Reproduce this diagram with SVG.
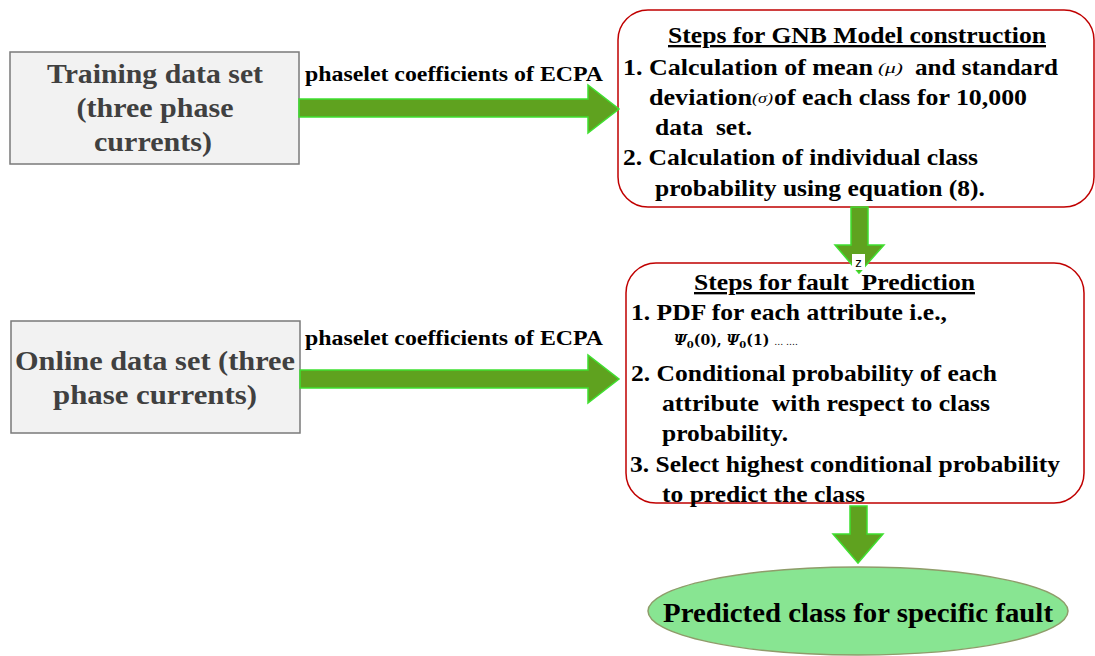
<svg xmlns="http://www.w3.org/2000/svg" width="1095" height="656" viewBox="0 0 1095 656">
<style>
text{font-family:"Liberation Serif","Times New Roman",Tinos,"DejaVu Serif",serif;font-weight:bold;white-space:pre}
.box{fill:#f2f2f2;stroke:#7a7a7a;stroke-width:1.5}
.rbox{fill:#ffffff;stroke:#c00000;stroke-width:1.5}
.big{font-size:27px;fill:#404040;text-anchor:middle}
.lbl{font-size:20px;fill:#000}
.t{font-size:23.5px;fill:#000}
.s{font-size:14px;font-style:italic;font-weight:normal;fill:#000}
.arr{fill:#5fa21f;stroke:#3fe030;stroke-width:1.5}
.z{font-family:"Liberation Sans",Arial,sans-serif;font-weight:normal;font-size:13px;fill:#000;text-anchor:middle}
</style>
<g id="training">
<rect class="box" x="10" y="52" width="289" height="112"/>
<text class="big" x="155" y="83" textLength="216" lengthAdjust="spacingAndGlyphs">Training data set</text>
<text class="big" x="155" y="117" textLength="157" lengthAdjust="spacingAndGlyphs">(three phase</text>
<text class="big" x="153" y="151" textLength="118" lengthAdjust="spacingAndGlyphs">currents)</text>
</g>
<g id="online">
<rect class="box" x="11" y="321" width="289" height="112"/>
<text class="big" x="155" y="370" textLength="280" lengthAdjust="spacingAndGlyphs">Online data set (three</text>
<text class="big" x="155" y="404" textLength="204" lengthAdjust="spacingAndGlyphs">phase currents)</text>
</g>
<g id="gnb">
<rect class="rbox" x="618" y="10" width="476" height="197" rx="30" ry="30"/>
<text class="t" x="668" y="43" text-decoration="underline" textLength="378" lengthAdjust="spacingAndGlyphs">Steps for GNB Model construction</text>
<text class="t" x="623" y="75" textLength="250" lengthAdjust="spacingAndGlyphs">1. Calculation of mean</text>
<text class="s" x="878" y="73" textLength="25" lengthAdjust="spacingAndGlyphs">(μ)</text>
<text class="t" x="915" y="75" textLength="143" lengthAdjust="spacingAndGlyphs">and standard</text>
<text class="t" x="649" y="105" textLength="103" lengthAdjust="spacingAndGlyphs">deviation</text>
<text class="s" x="752" y="103" textLength="21" lengthAdjust="spacingAndGlyphs">(σ)</text>
<text class="t" x="774" y="105" textLength="253" lengthAdjust="spacingAndGlyphs">of each class for 10,000</text>
<text class="t" x="655" y="135" textLength="97" lengthAdjust="spacingAndGlyphs">data  set.</text>
<text class="t" x="623" y="165" textLength="355" lengthAdjust="spacingAndGlyphs">2. Calculation of individual class</text>
<text class="t" x="655" y="196" textLength="330" lengthAdjust="spacingAndGlyphs">probability using equation (8).</text>
</g>
<g id="prediction">
<rect class="rbox" x="626" y="263" width="458" height="240" rx="30" ry="30"/>
<text class="t" x="694" y="290" text-decoration="underline" textLength="281" lengthAdjust="spacingAndGlyphs">Steps for fault  Prediction</text>
<text class="t" x="631" y="320" textLength="316" lengthAdjust="spacingAndGlyphs">1. PDF for each attribute i.e.,</text>
<text x="674" y="345" style="font-family:'DejaVu Serif',serif" font-size="14" fill="#000"><tspan font-style="italic">Ψ</tspan><tspan font-size="10" dy="3">0</tspan><tspan dy="-3">(0), </tspan><tspan font-style="italic">Ψ</tspan><tspan font-size="10" dy="3">0</tspan><tspan dy="-3">(1) </tspan><tspan style="font-weight:normal" font-size="9">… ….</tspan></text>
<text class="t" x="631" y="381" textLength="366" lengthAdjust="spacingAndGlyphs">2. Conditional probability of each</text>
<text class="t" x="662" y="411" textLength="328" lengthAdjust="spacingAndGlyphs">attribute  with respect to class</text>
<text class="t" x="662" y="441" textLength="126" lengthAdjust="spacingAndGlyphs">probability.</text>
<text class="t" x="630" y="472" textLength="430" lengthAdjust="spacingAndGlyphs">3. Select highest conditional probability</text>
<text class="t" x="662" y="502" textLength="203" lengthAdjust="spacingAndGlyphs">to predict the class</text>
</g>
<g id="result">
<ellipse cx="858" cy="611" rx="210" ry="44" fill="#88e592" stroke="#8f9c6a" stroke-width="1.5"/>
<text x="663" y="622" font-size="28" fill="#000" textLength="390" lengthAdjust="spacingAndGlyphs">Predicted class for specific fault</text>
</g>
<g id="connectors">
<polygon class="arr" points="299,99 588,99 588,85 619,109 588,133 588,117 299,117"/>
<polygon class="arr" points="300,370 588,370 588,355 619,379 588,403 588,388 300,388"/>
<polygon class="arr" points="851,207 868,207 868,245 884,245 859,273 835,245 851,245"/>
<polygon class="arr" points="850,506 867,506 867,534 883,534 858,563 833,534 850,534"/>
<text class="lbl" x="305" y="81" textLength="298" lengthAdjust="spacingAndGlyphs">phaselet coefficients of ECPA</text>
<text class="lbl" x="305" y="345" textLength="298" lengthAdjust="spacingAndGlyphs">phaselet coefficients of ECPA</text>
<rect x="852" y="254" width="13" height="16" fill="#fff"/>
<text class="z" x="858.5" y="267">z</text>
</g>
</svg>
